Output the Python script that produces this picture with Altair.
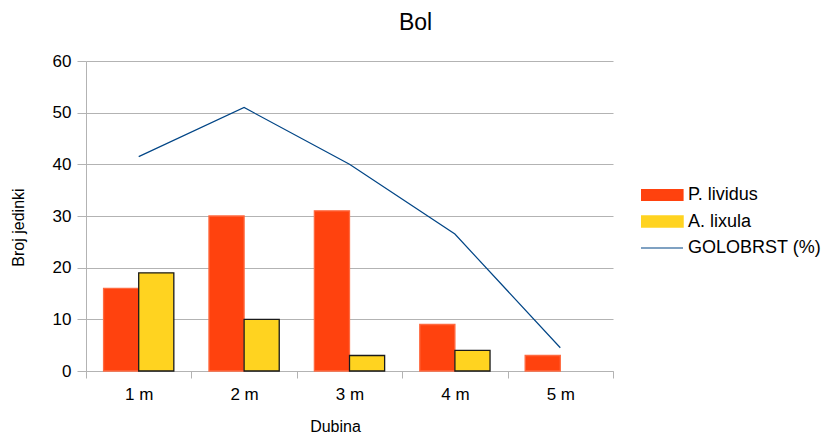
import altair as alt
import pandas as pd

categories = ["1 m", "2 m", "3 m", "4 m", "5 m"]
p_lividus = [16, 30, 31, 9, 3]
a_lixula = [19, 10, 3, 4, 0]
golobrst = [41.5, 51, 40, 26.5, 4.5]
series_names = ["P. lividus", "A. lixula", "GOLOBRST (%)"]
colors = ["#FF420E", "#FFD320", "#004586"]
y_ticks = [0, 10, 20, 30, 40, 50, 60]

FONT = "Liberation Sans"
GRID = "#b3b3b3"

bars_df = pd.DataFrame({
    "Dubina": categories * 2,
    "series": [series_names[0]] * len(categories) + [series_names[1]] * len(categories),
    "value": p_lividus + a_lixula,
})
line_df = pd.DataFrame({
    "Dubina": categories,
    "series": [series_names[2]] * len(categories),
    "value": golobrst,
})

x_enc = alt.X(
    "Dubina:N", sort=categories,
    scale=alt.Scale(paddingInner=0, paddingOuter=0),
    axis=alt.Axis(title="Dubina", labelAngle=0, tickBand="extent", tickSize=7,
                  labelPadding=8, labelFontSize=17, labelFont=FONT, labelColor="black",
                  titleFontSize=16, titleFont=FONT, titleFontWeight="normal", titleColor="black",
                  titleX=249, titleY=55, titleAlign="center", titleBaseline="middle",
                  domainColor=GRID, tickColor=GRID, grid=False),
)
y_enc = alt.Y(
    "value:Q", scale=alt.Scale(domain=[0, 60]),
    axis=alt.Axis(title="Broj jedinki", values=y_ticks, tickSize=9, labelPadding=6,
                  labelFontSize=17, labelFont=FONT, labelColor="black",
                  titleFontSize=16, titleFont=FONT, titleFontWeight="normal", titleColor="black",
                  titleX=-68, titleY=166, titleAngle=-90, titleAlign="center", titleBaseline="middle",
                  domainColor=GRID, tickColor=GRID, gridColor=GRID, grid=True),
)

legend = alt.Legend(
    title=None, orient="none", legendX=555, legendY=124, padding=0,
    labelFontSize=18, labelFont=FONT, labelColor="black", labelOffset=29,
    symbolType=alt.ExprRef(expr="datum.value == 'GOLOBRST (%)' ? 'M-1,0H3.3' : 'M-1,-0.54H3.3V0.54H-1Z'"),
    symbolSize=400,
    symbolStrokeColor=alt.ExprRef(expr="datum.value == 'A. lixula' ? '#1a1a1a' : (datum.value == 'GOLOBRST (%)' ? '#004586' : '#FF420E')"),
    symbolStrokeWidth=alt.ExprRef(expr="datum.value == 'A. lixula' ? 1.5 : 1.2"),
    symbolOpacity=1,
    clipHeight=20, rowPadding=6.5,
)

color_enc = alt.Color("series:N", scale=alt.Scale(domain=series_names, range=colors), legend=legend)

bars = alt.Chart(bars_df).transform_filter("datum.value > 0").mark_bar(strokeWidth=1.3).encode(
    x=x_enc, y=y_enc,
    xOffset=alt.XOffset("series:N", sort=series_names[:2],
                        scale=alt.Scale(domain=series_names[:2], paddingOuter=0.5, paddingInner=0)),
    color=color_enc,
    stroke=alt.condition("datum.series == 'A. lixula'", alt.value("#1a1a1a"), alt.value("#FF6A40")),
)

line = alt.Chart(line_df).mark_line(strokeWidth=1.2).encode(
    x=x_enc, y=y_enc, color=color_enc,
)

chart = alt.layer(bars, line).properties(
    width=527, height=310,
    autosize=alt.AutoSizeParams(type="none"),
    padding={"left": 78, "top": 53, "right": 214, "bottom": 63},
    title=alt.TitleParams("Bol", fontSize=23, font=FONT, fontWeight="normal", color="black",
                          anchor="middle", frame="group", dx=66, offset=17),
).configure_view(stroke=None)

chart.save("out.html", embed_options={"renderer": "svg", "actions": False})
